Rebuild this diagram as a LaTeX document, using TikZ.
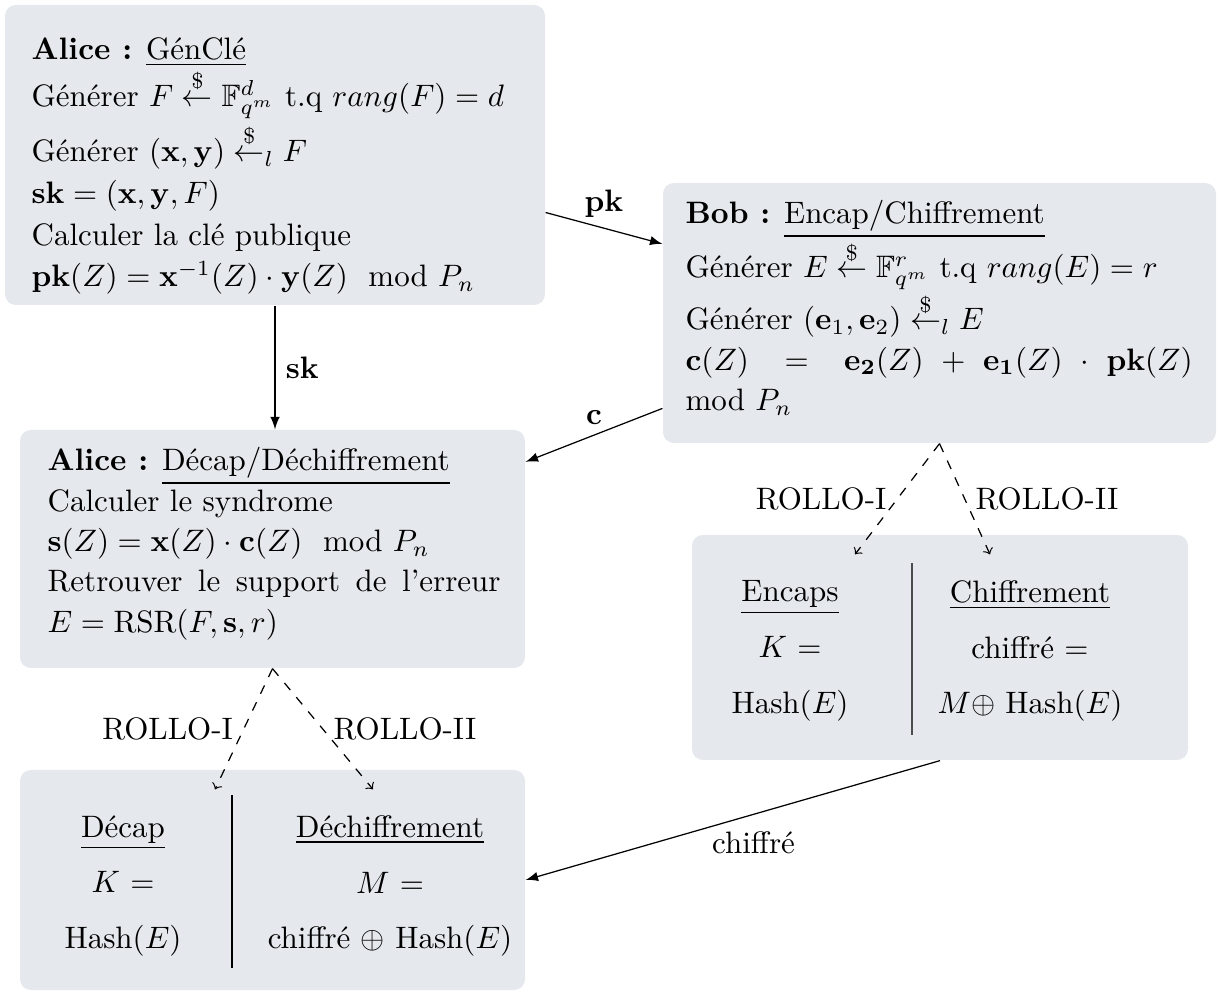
\documentclass[tikz,border=0pt]{standalone}
\usepackage{amssymb}
\usepackage{amsmath}
\usepackage{tikz}
\usepackage{color}

\definecolor{panelgray}{RGB}{229,233,237}
\newcommand{\pxu}{0.3226pt}

\begin{document}
\begin{tikzpicture}[x=0.3226pt, y=-0.3226pt,
  panel/.style={fill=panelgray, rounded corners=3.5pt, inner sep=0pt},
  paneltext/.style={inner sep=0pt, anchor=north west, align=left, font=\fontsize{10}{13}\selectfont},
  coltext/.style={inner sep=0pt, align=center, font=\fontsize{10}{13}\selectfont},
  link/.style={-latex},
  variant/.style={->, dashed}]

\useasboundingbox (0,0) rectangle (1219,992);

% the five boxes
\node [panel, minimum width=540*\pxu, minimum height=300*\pxu] (genkey) at (275,155) {};
\node [panel, minimum width=553*\pxu, minimum height=260*\pxu] (encap) at (939.5,313) {};
\node [panel, minimum width=505*\pxu, minimum height=238*\pxu] (decap) at (272.5,549) {};
\node [panel, minimum width=496*\pxu, minimum height=225*\pxu] (encvariant) at (940,647.5) {};
\node [panel, minimum width=505*\pxu, minimum height=220*\pxu] (decvariant) at (272.5,880) {};

% texts of the boxes
\node [paneltext, font=\fontsize{10}{13.5}\selectfont] (genkeytext) at (31,37) {%
  \textbf{Alice :} \underline{GénClé}\\
  Générer $F \overset{\$}{\leftarrow} \mathbb{F}_{q^m}^{d}$ t.q $rang(F) = d$\\[1pt]
  Générer $(\mathbf{x},\mathbf{y}) \overset{\$}{\leftarrow}_{l} F$\\
  $\mathbf{sk} = (\mathbf{x},\mathbf{y},F)$\\
  Calculer la clé publique\\
  $\mathbf{pk}(Z) = \mathbf{x}^{-1}(Z)\cdot\mathbf{y}(Z) \mod P_n$};

\node [paneltext, text width=507*\pxu, align=justify] (encaptext) at (685,200) {%
  \textbf{Bob :} \underline{Encap/Chiffrement}\\
  Générer $E \overset{\$}{\leftarrow} \mathbb{F}_{q^m}^{r}$ t.q $rang(E) = r$\\
  Générer $(\mathbf{e}_1,\mathbf{e}_2) \overset{\$}{\leftarrow}_{l} E$\\
  $\mathbf{c}(Z) = \mathbf{e_2}(Z) + \mathbf{e_1}(Z) \cdot \mathbf{pk}(Z)$\linebreak
  mod $P_n$};

\node [paneltext, text width=453*\pxu, align=justify] (decaptext) at (47,447) {%
  \textbf{Alice :} \underline{Décap/Déchiffrement}\\
  Calculer le syndrome\\
  $\mathbf{s}(Z) = \mathbf{x}(Z)\cdot\mathbf{c}(Z) \mod P_n$\\
  Retrouver le support de l'erreur\linebreak
  $E = \mathrm{RSR}(F,\mathbf{s},r)$};

% the two columns of each variant box
\node [coltext] (encaps) at (790,651) {\underline{Encaps}\\[5pt] $K$ =\\[5pt] Hash$(E)$};
\node [coltext] (chiffrement) at (1030,651) {\underline{Chiffrement}\\[5pt] chiffré =\\[5pt] $M \oplus$ Hash$(E)$};
\draw [black!70] (912,563) -- (912,735);

\node [coltext] (decapcol) at (123,886) {\underline{Décap}\\[5pt] $K$ =\\[5pt] Hash$(E)$};
\node [coltext] (dechiffrement) at (390,886) {\underline{Déchiffrement}\\[5pt] $M$ =\\[5pt] chiffré $\oplus$ Hash$(E)$};
\draw (232,795) -- (232,968);

% messages
\draw [link] (genkey.-12.5) -- node [above] {$\mathbf{pk}$} (encap.166);
\draw [link] (genkey.south) -- node [right] {$\mathbf{sk}$} (genkey.south |- decap.north);
\draw [link] (encap.-161) -- node [above] {$\mathbf{c}$} (decap.19.6);
\draw [link] (encvariant.south) -- node [pos=0.45, below, yshift=-2pt] {chiffré} (decvariant.east);

% variants
\draw [variant] (encap.south) -- node [left] {ROLLO-I} ([xshift=-85*\pxu, yshift=-20*\pxu]encvariant.north);
\draw [variant] (encap.south) -- node [right] {ROLLO-II} ([xshift=50*\pxu, yshift=-20*\pxu]encvariant.north);
\draw [variant] (decap.south) -- node [left] {ROLLO-I} ([xshift=-57.5*\pxu, yshift=-20*\pxu]decvariant.north);
\draw [variant] (decap.south) -- node [right] {ROLLO-II} ([xshift=100.5*\pxu, yshift=-20*\pxu]decvariant.north);

\end{tikzpicture}
\end{document}
